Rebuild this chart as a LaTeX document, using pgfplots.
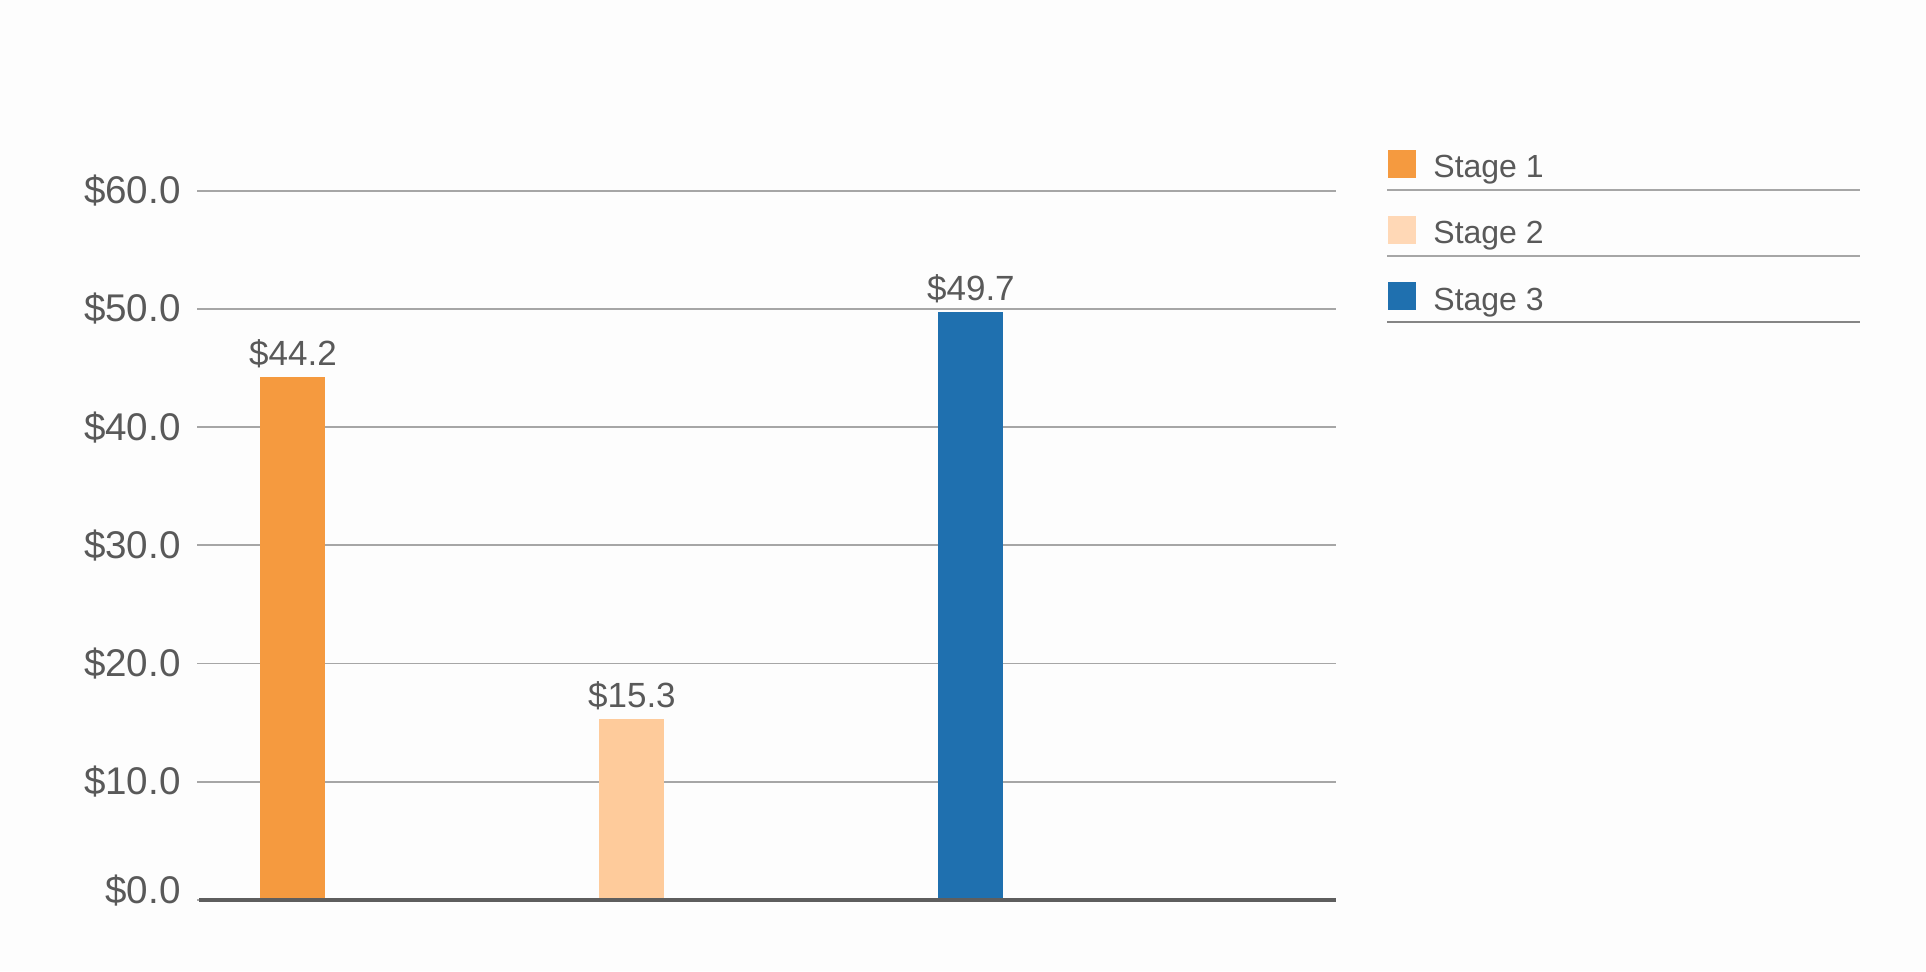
\documentclass[border=0pt]{standalone}
\usepackage{pgfplots}
\pgfplotsset{compat=1.18}
\usepackage{fontspec}
\setmainfont{Liberation Sans}
\definecolor{txt}{HTML}{595959}
\definecolor{gridc}{HTML}{A6A6A6}
\definecolor{basec}{HTML}{5E5E5E}
\definecolor{cA}{HTML}{F59A3F}
\definecolor{cB}{HTML}{FECB9B}
\definecolor{cBl}{HTML}{FFD8B6}
\definecolor{cC}{HTML}{1F70AF}
\definecolor{bg}{HTML}{FDFDFD}
\begin{document}
\begin{tikzpicture}
\fill[bg] (0,0) rectangle (963pt,485.5pt);
\path[use as bounding box] (0,0) rectangle (963pt,485.5pt);
\begin{axis}[
  at={(98.5pt,35.5pt)}, anchor=south west,
  scale only axis, width=569.5pt, height=354.65pt,
  xmin=-0.283, xmax=3.077, ymin=0, ymax=60,
  ybar=0pt, bar width=32.5pt, bar shift=0pt,
  axis line style={draw=none},
  xtick=\empty,
  ytick={0,10,20,30,40,50,60},
  yticklabels={\raisebox{10.5pt}{\$0.0},\$10.0,\$20.0,\$30.0,\$40.0,\$50.0,\$60.0},
  yticklabel style={font=\fontsize{19.3}{23}\selectfont, text=txt, inner sep=0pt, xshift=-8pt},
  major tick length=0pt,
  ymajorgrids, grid style={gridc, line width=0.9pt},
  /pgf/number format/assume math mode=true,
  nodes near coords={\$\pgfmathprintnumber[fixed,fixed zerofill,precision=1]{\pgfplotspointmeta}},
  nodes near coords style={font=\fontsize{17.5}{21}\selectfont, text=txt, anchor=base, inner sep=0pt, yshift=6pt},
  clip=false,
]
\addplot[fill=cA, draw=none] coordinates {(0,44.2)};
\addplot[fill=cB, draw=none] coordinates {(1,15.3)};
\addplot[fill=cC, draw=none] coordinates {(2,49.7)};
\draw[basec, line width=2pt] (axis cs:-0.277,0) -- (axis cs:3.077,0);
\end{axis}
% legend
\fill[cA] (694pt,396.5pt) rectangle (708pt,410.5pt);
\fill[cBl] (694pt,363.5pt) rectangle (708pt,377.5pt);
\fill[cC] (694pt,330.5pt) rectangle (708pt,344.5pt);
\node[anchor=base west, inner sep=0pt, text=txt, font=\fontsize{16}{19}\selectfont] at (716.5pt,396.5pt) {Stage 1};
\node[anchor=base west, inner sep=0pt, text=txt, font=\fontsize{16}{19}\selectfont] at (716.5pt,363.5pt) {Stage 2};
\node[anchor=base west, inner sep=0pt, text=txt, font=\fontsize{16}{19}\selectfont] at (716.5pt,330.5pt) {Stage 3};
\draw[gridc, line width=1pt] (693.5pt,390.5pt) -- (930pt,390.5pt);
\draw[gridc, line width=1pt] (693.5pt,357.5pt) -- (930pt,357.5pt);
\draw[gridc!80!black, line width=1pt] (693.5pt,324.5pt) -- (930pt,324.5pt);
\end{tikzpicture}
\end{document}
